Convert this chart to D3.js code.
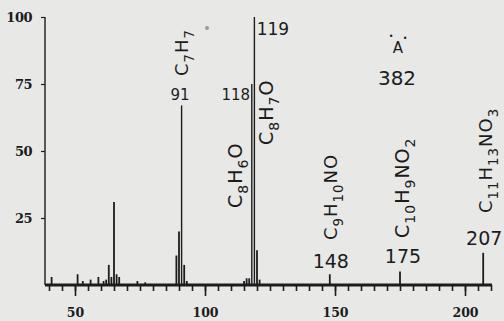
<!DOCTYPE html>
<html><head><meta charset="utf-8">
<script src="https://cdn.jsdelivr.net/npm/d3@7"></script>
<style>
html,body{margin:0;padding:0;background:#e8e8e7;}
svg{display:block;}
</style></head>
<body>
<svg id="chart" width="504" height="321"></svg>
<script>
// ---- data ----
const mz = [41, 51, 53, 56, 59, 61, 62, 63, 64, 65, 66, 67, 74, 77, 89, 90, 91, 92, 93, 115, 116, 117, 118, 119, 120, 121, 148, 175, 207];
const intensity = [3, 4, 1.5, 2, 3, 1.5, 2, 7.5, 3, 31, 4, 3, 1.5, 1, 11, 20, 67, 7.5, 1.5, 1.5, 2.5, 2.5, 75, 100, 13, 2, 4, 5, 12];
const xTickLabels = [50, 100, 150, 200];
const yTickLabels = [25, 50, 75, 100];
const peakLabels = ["91", "118", "119", "148", "175", "207"];
const formulas = ["C7H7", "C8H6O", "C8H7O", "C9H10NO", "C10H9NO2", "C11H13NO3"];
const formulaPeaks = [91, 118, 119, 148, 175, 207];
const molIonLabel = "382";
const molIonSymbol = "A";

// ---- layout ----
const svg = d3.select("#chart");
const x = d3.scaleLinear().domain([50, 200]).range([75, 465]);
const y = d3.scaleLinear().domain([0, 100]).range([285, 17]);
const ink = "#1c1c1c";

// peaks
svg.append("g").selectAll("line").data(mz.map((m, i) => ({m, v: intensity[i]})))
  .join("line")
  .attr("x1", d => x(d.m)).attr("x2", d => x(d.m))
  .attr("y1", y(0)).attr("y2", d => y(d.v))
  .attr("stroke", ink).attr("stroke-width", d => d.v > 50 ? 1.4 : 1.8);

// x axis
const minorTicks = d3.range(40, 211, 5);
const gxMinor = svg.append("g").attr("transform", `translate(0,${y(0)})`)
  .call(d3.axisBottom(x).tickValues(minorTicks).tickSize(6).tickFormat(""));
const gxMajor = svg.append("g").attr("transform", `translate(0,${y(0)})`)
  .call(d3.axisBottom(x).tickValues(xTickLabels).tickSize(11).tickFormat(d3.format("d")));
[gxMinor, gxMajor].forEach(g => {
  g.select(".domain").remove();
  g.selectAll(".tick line").attr("stroke", ink).attr("stroke-width", 1.6);
});
gxMajor.selectAll(".tick text")
  .attr("y", 32).attr("dy", 0)
  .attr("font-family", "'DejaVu Serif', serif").attr("font-weight", "bold")
  .attr("font-size", 12.5).attr("fill", ink);
svg.append("line").attr("x1", 45).attr("x2", 492).attr("y1", y(0)).attr("y2", y(0))
  .attr("stroke", ink).attr("stroke-width", 2.8);

// y axis
const gy = svg.append("g").attr("transform", "translate(45,0)")
  .call(d3.axisLeft(y).tickValues(yTickLabels).tickSize(4).tickPadding(9).tickFormat(d3.format("d")));
gy.select(".domain").remove();
gy.selectAll(".tick line").attr("stroke", ink).attr("stroke-width", 1.2);
gy.selectAll(".tick text")
  .attr("font-family", "'DejaVu Serif', serif").attr("font-weight", "bold")
  .attr("font-size", 13).attr("fill", ink).attr("letter-spacing", -0.5);
svg.append("line").attr("x1", 45).attr("x2", 45).attr("y1", y(100)).attr("y2", y(0))
  .attr("stroke", ink).attr("stroke-width", 1.4);

// numeric peak labels
const labelFont = "'DejaVu Sans', sans-serif";
const numPos = {"91": [-1.5, 100, 15], "118": [-16, 100, 15], "119": [18.5, 35, 17],
                "148": [1, 268, 19], "175": [3, 263, 19], "207": [1, 245, 19]};
svg.append("g").selectAll("text").data(peakLabels).join("text")
  .attr("x", d => x(+d) + numPos[d][0]).attr("y", d => numPos[d][1])
  .attr("text-anchor", "middle").attr("font-family", labelFont)
  .attr("font-size", d => numPos[d][2]).attr("fill", ink).text(d => d);

// formula labels (rotated, subscripts for digits)
const fPos = [[6, 76, 18], [-9.5, 208, 19], [19, 145, 19], [7, 240, 18], [9, 238, 19], [9, 213, 18]];
formulas.forEach((f, i) => {
  const [dx, y0, fs] = fPos[i];
  const t = svg.append("text")
    .attr("transform", `translate(${x(formulaPeaks[i]) + dx},${y0}) rotate(-90)`)
    .attr("font-family", labelFont).attr("font-size", fs).attr("fill", ink)
    .attr("letter-spacing", 1);
  const parts = f.match(/[A-Z][a-z]?|\d+/g);
  let sub = false;
  parts.forEach(p => {
    const isNum = /^\d+$/.test(p);
    const ts = t.append("tspan").text(p);
    if (isNum && !sub) { ts.attr("dy", 6).attr("font-size", fs * 0.74); sub = true; }
    else if (!isNum && sub) { ts.attr("dy", -6); sub = false; }
    else if (isNum) ts.attr("font-size", fs * 0.74);
  });
});

// molecular ion annotation
svg.append("text").attr("x", 398).attr("y", 53).attr("text-anchor", "middle")
  .attr("font-family", labelFont).attr("font-size", 15).attr("fill", ink).text(molIonSymbol);
svg.append("text").attr("x", 391).attr("y", 39).attr("text-anchor", "middle")
  .attr("font-family", labelFont).attr("font-size", 8).attr("fill", ink).text("•");
svg.append("text").attr("x", 405).attr("y", 41).attr("text-anchor", "middle")
  .attr("font-family", labelFont).attr("font-size", 8).attr("fill", ink).text("•");
svg.append("text").attr("x", 397).attr("y", 85).attr("text-anchor", "middle")
  .attr("font-family", labelFont).attr("font-size", 20).attr("fill", ink).text(molIonLabel);

// small speck near the C7H7 label
svg.append("circle").attr("cx", 207).attr("cy", 28).attr("r", 2).attr("fill", "#9a9a9a");
</script>
</body></html>
